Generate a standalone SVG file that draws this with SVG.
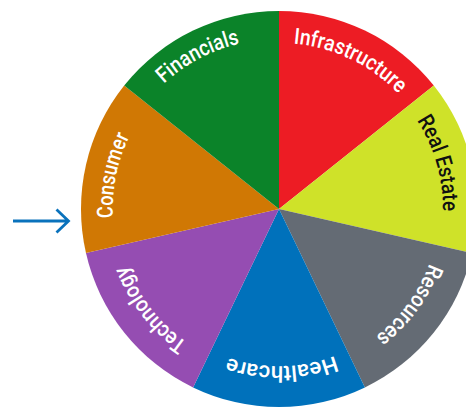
<svg xmlns="http://www.w3.org/2000/svg" xmlns:xlink="http://www.w3.org/1999/xlink" width="466" height="407" viewBox="0 0 466 407">
<style>
.lbl{font-family:"Roboto","Noto Sans","Open Sans",sans-serif;font-size:22px;font-weight:500;fill:#ffffff;}
.dark{fill:#111111;}
.conn{fill:none;stroke:#0a72bc;stroke-width:2.8;stroke-linecap:butt;stroke-linejoin:miter;}
</style>
<defs>
<path id="pInf" d="M143.9,112.6 A166,166 0 0 1 439.0,253.4"/>
<path id="pRe" d="M261.9,45.9 A164,164 0 0 1 350.9,356.4"/>
<path id="pRes" d="M394.9,98.7 A160,160 0 0 1 207.9,352.3"/>
<path id="pHc" d="M434.1,233.6 A157,157 0 0 1 124.9,239.0"/>
<path id="pTech" d="M355.1,352.0 A162,162 0 0 1 158.6,100.6"/>
<path id="pCon" d="M218.4,363.6 A166,166 0 0 1 283.1,43.0"/>
<path id="pFin" d="M117.3,261.5 A170,170 0 0 1 413.0,104.3"/>
</defs>
<rect width="466" height="407" fill="#ffffff"/>
<g id="infrastructure">
<path d="M279,209 L279,11 A198,198 0 0 1 433.80,85.55 Z" fill="#ed1c24"/>
<text class="lbl" text-anchor="middle"><textPath xlink:href="#pInf" href="#pInf" startOffset="50%" textLength="119" lengthAdjust="spacingAndGlyphs">Infrastructure</textPath></text>
</g>
<g id="real-estate">
<path d="M279,209 L433.80,85.55 A198,198 0 0 1 472.04,253.06 Z" fill="#cfe229"/>
<text class="lbl dark" text-anchor="middle"><textPath xlink:href="#pRe" href="#pRe" startOffset="50%" textLength="96" lengthAdjust="spacingAndGlyphs">Real Estate</textPath></text>
</g>
<g id="resources">
<path d="M279,209 L472.04,253.06 A198,198 0 0 1 364.91,387.39 Z" fill="#646b74"/>
<text class="lbl" text-anchor="middle"><textPath xlink:href="#pRes" href="#pRes" startOffset="50%" textLength="92" lengthAdjust="spacingAndGlyphs">Resources</textPath></text>
</g>
<g id="healthcare">
<path d="M279,209 L364.91,387.39 A198,198 0 0 1 193.09,387.39 Z" fill="#0071bb"/>
<text class="lbl" text-anchor="middle"><textPath xlink:href="#pHc" href="#pHc" startOffset="50%" textLength="109" lengthAdjust="spacingAndGlyphs">Healthcare</textPath></text>
</g>
<g id="technology">
<path d="M279,209 L193.09,387.39 A198,198 0 0 1 85.96,253.06 Z" fill="#954db2"/>
<text class="lbl" text-anchor="middle"><textPath xlink:href="#pTech" href="#pTech" startOffset="50%" textLength="100" lengthAdjust="spacingAndGlyphs">Technology</textPath></text>
</g>
<g id="consumer">
<path d="M279,209 L85.96,253.06 A198,198 0 0 1 124.20,85.55 Z" fill="#d07804"/>
<text class="lbl" text-anchor="middle"><textPath xlink:href="#pCon" href="#pCon" startOffset="50%" textLength="84" lengthAdjust="spacingAndGlyphs">Consumer</textPath></text>
</g>
<g id="financials">
<path d="M279,209 L124.20,85.55 A198,198 0 0 1 279,11 Z" fill="#0b8329"/>
<text class="lbl" text-anchor="middle"><textPath xlink:href="#pFin" href="#pFin" startOffset="50%" textLength="87" lengthAdjust="spacingAndGlyphs">Financials</textPath></text>
</g>
<g id="connectors">
<path class="conn" d="M13,221 H68 M56.5,209.5 L68.5,221 L56.5,232.5"/>
</g>
</svg>
